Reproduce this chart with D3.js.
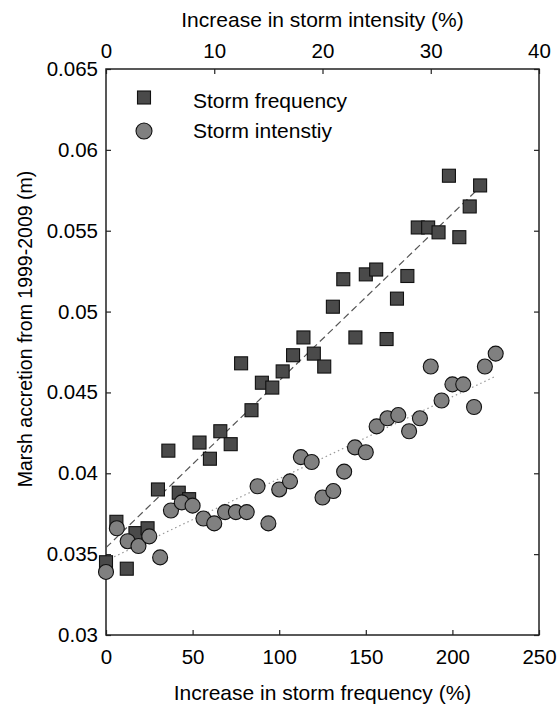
<!DOCTYPE html>
<html>
<head>
<meta charset="utf-8">
<script src="https://cdn.jsdelivr.net/npm/d3@7"></script>
<style>
  body { margin: 0; background: #fff; }
  text { font-family: "Liberation Sans", Arial, sans-serif; fill: #000; }
</style>
</head>
<body>
<div id="vis-container"></div>
<script>
// storm frequency (%) vs accretion (m) - squares
var freqX = [0, 6, 12, 17, 24, 30, 36, 42, 48, 54, 60, 66, 72, 78, 84, 90, 96, 102, 108, 114,
    120, 126, 131, 137, 144, 150, 156, 162, 168, 174, 180, 186, 192, 198, 204, 210, 216];
var freqY = [0.0345, 0.0370, 0.0341, 0.0363, 0.0366, 0.0390, 0.0414, 0.0388, 0.0384, 0.0419,
    0.0409, 0.0426, 0.0418, 0.0468, 0.0439, 0.0456, 0.0453, 0.0463, 0.0473, 0.0484,
    0.0474, 0.0466, 0.0503, 0.0520, 0.0484, 0.0523, 0.0526, 0.0483, 0.0508, 0.0522,
    0.0552, 0.0552, 0.0549, 0.0584, 0.0546, 0.0565, 0.0578];

// storm intensity (%) vs accretion (m) - circles
var intX = d3.range(0, 37); // 0..36, one per percent
var intY = [0.0339, 0.0366, 0.0358, 0.0355, 0.0361, 0.0348, 0.0377, 0.0382, 0.0380, 0.0372,
    0.0369, 0.0376, 0.0376, 0.0376, 0.0392, 0.0369, 0.0390, 0.0395, 0.0410, 0.0407,
    0.0385, 0.0389, 0.0401, 0.0416, 0.0413, 0.0429, 0.0434, 0.0436, 0.0426, 0.0434,
    0.0466, 0.0445, 0.0455, 0.0455, 0.0441, 0.0466, 0.0474];

// fitted trend lines (end points)
var freqTrend = [[0, 0.0354], [216, 0.0577]];
var intTrend = [[0, 0.0346], [36, 0.0460]];

var bottomTicks = [0, 50, 100, 150, 200, 250];
var topTicks = [0, 10, 20, 30, 40];
var yTicks = [0.03, 0.035, 0.04, 0.045, 0.05, 0.055, 0.06, 0.065];

var width = 560;
var height = 704;
var margins = { top: 69, right: 21, bottom: 69, left: 106 };
var visWidth = width - margins.left - margins.right;
var visHeight = height - margins.top - margins.bottom;

var svg = d3.select("#vis-container").append("svg")
    .attr("width", width).attr("height", height);
var viewport = svg.append("g")
    .attr("transform", "translate(" + margins.left + "," + margins.top + ")");

var xScale = d3.scaleLinear().domain([0, 250]).range([0, visWidth]);
var xTopScale = d3.scaleLinear().domain([0, 40]).range([0, visWidth]);
var yScale = d3.scaleLinear().domain([0.03, 0.065]).range([visHeight, 0]);

var fmtY = d => String(+d.toFixed(3));

// axes with inward ticks
function styleAxis(g) {
    g.select(".domain").remove();
    g.selectAll(".tick line").attr("stroke", "#222").attr("stroke-width", 1.2);
    g.selectAll(".tick text").attr("font-size", 20.5).attr("font-family", "Liberation Sans, Arial, sans-serif");
}

var axisG = viewport.append("g");
axisG.append("g")
    .attr("transform", "translate(0," + visHeight + ")")
    .call(d3.axisBottom(xScale).tickValues(bottomTicks).tickSizeInner(-5).tickSizeOuter(0).tickPadding(14))
    .call(styleAxis);
axisG.append("g")
    .call(d3.axisTop(xTopScale).tickValues(topTicks).tickSizeInner(-5).tickSizeOuter(0).tickPadding(11))
    .call(styleAxis);
axisG.append("g")
    .call(d3.axisLeft(yScale).tickValues(yTicks).tickFormat(fmtY).tickSizeInner(-5).tickSizeOuter(0).tickPadding(8))
    .call(styleAxis);
axisG.append("g")
    .attr("transform", "translate(" + visWidth + ",0)")
    .call(d3.axisRight(yScale).tickValues(yTicks).tickFormat("").tickSizeInner(-5).tickSizeOuter(0))
    .call(styleAxis);

axisG.append("rect")
    .attr("width", visWidth).attr("height", visHeight)
    .attr("fill", "none").attr("stroke", "#222").attr("stroke-width", 1.5);

// trend lines
var lineFreq = d3.line().x(d => xScale(d[0])).y(d => yScale(d[1]));
var lineInt = d3.line().x(d => xTopScale(d[0])).y(d => yScale(d[1]));

var visualization = viewport.append("g");

visualization.append("path")
    .attr("d", lineFreq(freqTrend))
    .attr("fill", "none").attr("stroke", "#555").attr("stroke-width", 1.2)
    .attr("stroke-dasharray", "7,4");
visualization.append("path")
    .attr("d", lineInt(intTrend))
    .attr("fill", "none").attr("stroke", "#999").attr("stroke-width", 1.2)
    .attr("stroke-dasharray", "1.5,3");

var freqData = freqX.map((x, i) => ({ x: x, y: freqY[i] }));
var intData = intX.map((x, i) => ({ x: x, y: intY[i] }));

var sq = 13;
visualization.selectAll("rect.c-freq")
    .data(freqData).enter().append("rect")
    .attr("class", "c-freq")
    .attr("x", d => xScale(d.x) - sq / 2)
    .attr("y", d => yScale(d.y) - sq / 2)
    .attr("width", sq).attr("height", sq)
    .attr("fill", "#4a4a4a").attr("stroke", "#111").attr("stroke-width", 1.1);

visualization.selectAll("circle.c-int")
    .data(intData).enter().append("circle")
    .attr("class", "c-int")
    .attr("cx", d => xTopScale(d.x))
    .attr("cy", d => yScale(d.y))
    .attr("r", 7.5)
    .attr("fill", "#808080").attr("stroke", "#111").attr("stroke-width", 1.1);

// legend
var legend = viewport.append("g");
legend.append("rect")
    .attr("x", 38 - sq / 2).attr("y", 28.5 - sq / 2).attr("width", sq).attr("height", sq)
    .attr("fill", "#4a4a4a").attr("stroke", "#111").attr("stroke-width", 1.1);
legend.append("circle")
    .attr("cx", 38).attr("cy", 62).attr("r", 8)
    .attr("fill", "#808080").attr("stroke", "#111").attr("stroke-width", 1.1);
legend.append("text").text("Storm frequency")
    .attr("x", 87).attr("y", 39).attr("font-size", 21);
legend.append("text").text("Storm intenstiy")
    .attr("x", 87).attr("y", 69).attr("font-size", 21);

// axis labels
svg.append("text").text("Increase in storm intensity (%)")
    .attr("text-anchor", "middle")
    .attr("x", margins.left + visWidth / 2).attr("y", 27)
    .attr("font-size", 21);
svg.append("text").text("Increase in storm frequency (%)")
    .attr("text-anchor", "middle")
    .attr("x", margins.left + visWidth / 2).attr("y", 700)
    .attr("font-size", 21);
svg.append("text").text("Marsh accretion from 1999-2009 (m)")
    .attr("text-anchor", "middle")
    .attr("transform", "translate(32,329) rotate(-90)")
    .attr("font-size", 19.5);
</script>
</body>
</html>
